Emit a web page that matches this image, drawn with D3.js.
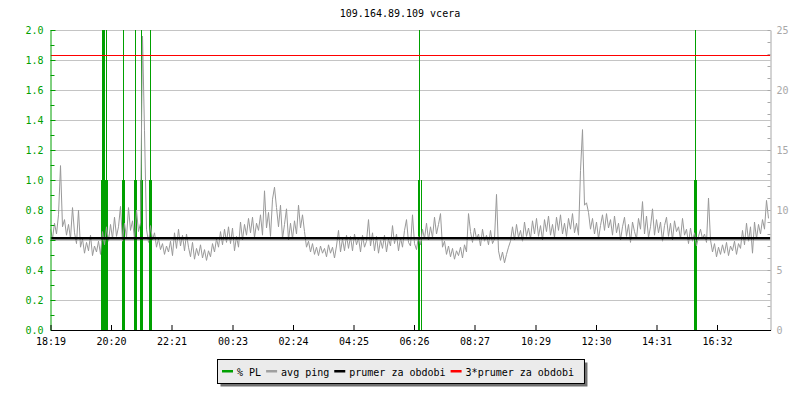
<!DOCTYPE html>
<html>
<head>
<meta charset="utf-8">
<script src="https://cdn.jsdelivr.net/npm/d3@7"></script>
<style>
  body { margin: 0; background: #fff; }
  svg { display: block; font-family: "DejaVu Sans Mono", monospace; font-size: 10px; }
</style>
</head>
<body>
<div id="chart"></div>
<script>
// Chart data.
const title = "109.164.89.109 vcera"
const startTime = "18:19"
const tickLabels = ["18:19", "20:20", "22:21", "00:23", "02:24", "04:25", "06:26", "08:27", "10:29", "12:30", "14:31", "16:32"]
const sampleStep = 4 // minutes between ping samples

// avg ping (ms), one value every 4 minutes from 18:19
const pingAvg = [
  8.4, 7.6, 8.9, 8.0, 9.6, 13.7, 8.6, 9.2, 7.9, 8.8, 7.6, 10.2, 8.1, 7.2, 10.0, 6.9, 7.6, 6.4, 7.3, 6.6, 7.9, 6.2, 7.0, 6.5, 7.4, 6.3, 8.2, 7.1, 8.6, 7.4,
  8.8, 7.6, 9.4, 7.8, 8.6, 10.3, 7.4, 8.9, 7.7, 10.2, 8.3, 9.1, 7.6, 10.0, 8.2, 8.9, 24.5, 16.6, 8.4, 7.3, 8.7, 7.5, 8.1, 6.9, 7.6, 6.7, 7.2, 6.3, 7.0, 6.5,
  7.4, 6.2, 8.1, 6.8, 8.4, 7.0, 7.9, 6.6, 8.0, 6.9, 6.1, 7.3, 5.9, 6.8, 6.2, 7.1, 6.0, 6.7, 5.8, 6.6, 6.1, 7.2, 6.5, 7.6, 6.9, 8.2, 7.1, 8.4, 7.3, 8.6,
  7.2, 8.5, 6.6, 7.8, 6.9, 9.0, 7.5, 8.8, 7.9, 9.3, 8.1, 9.4, 7.7, 8.9, 8.3, 9.6, 7.9, 11.6, 8.5, 9.8, 7.8, 10.9, 11.9, 10.2, 8.6, 10.4, 7.6, 8.8, 10.1, 7.5,
  8.9, 7.6, 9.1, 8.0, 10.4, 8.5, 9.6, 8.2, 6.9, 7.4, 6.5, 7.2, 6.3, 6.9, 6.2, 7.0, 6.4, 6.8, 6.1, 7.1, 6.4, 6.9, 6.0, 7.0, 8.3, 6.5, 7.6, 6.6, 7.9, 6.8,
  7.8, 6.6, 8.0, 7.1, 7.7, 6.5, 7.9, 6.9, 7.4, 9.2, 7.0, 8.1, 6.6, 7.8, 6.4, 7.5, 6.8, 7.9, 6.5, 7.6, 7.0, 8.7, 7.2, 8.0, 6.6, 7.7, 6.9, 8.3, 9.2, 7.3,
  7.0, 9.6, 7.2, 6.7, 7.8, 7.1, 8.4, 7.6, 8.9, 7.5, 8.6, 7.7, 9.4, 8.0, 8.8, 9.7, 6.9, 7.4, 6.3, 7.0, 6.1, 6.8, 5.9, 6.6, 6.2, 6.9, 6.0, 7.1, 6.5, 9.7,
  8.2, 7.3, 8.5, 7.6, 8.0, 7.0, 8.4, 7.4, 7.9, 7.1, 8.3, 7.2, 7.6, 11.3, 6.6, 5.8, 6.5, 5.6, 6.3, 6.9, 7.4, 8.6, 7.5, 8.8, 7.7, 8.3, 7.4, 9.0, 7.8, 8.5,
  7.6, 9.1, 8.0, 9.3, 7.8, 8.7, 7.5, 9.2, 8.2, 9.5, 7.9, 8.8, 7.7, 9.4, 8.3, 9.6, 8.0, 8.9, 7.8, 9.3, 8.4, 9.7, 8.1, 8.9, 7.9, 13.3, 16.7, 10.4, 10.6, 9.8,
  8.4, 9.3, 8.0, 9.0, 7.6, 8.7, 9.6, 8.3, 9.7, 8.5, 9.2, 7.9, 9.5, 8.1, 8.9, 7.5, 8.6, 9.4, 7.8, 8.8, 7.3, 9.0, 8.2, 7.6, 9.3, 8.4, 10.7, 8.0, 9.5, 7.7,
  8.6, 10.1, 7.9, 9.2, 8.1, 9.0, 7.4, 8.7, 9.4, 7.8, 8.9, 7.5, 9.1, 8.2, 8.6, 7.6, 9.3, 7.9, 8.4, 7.2, 8.5, 7.4, 8.1, 7.0, 7.8, 8.4, 7.6, 8.0, 7.3, 11.0,
  7.5, 6.5, 7.2, 6.1, 6.9, 6.3, 7.1, 6.4, 7.3, 6.2, 7.0, 6.6, 7.4, 6.3, 7.2, 6.8, 8.3, 7.1, 8.9, 7.4, 8.6, 6.4, 9.0, 7.6, 8.8, 8.0, 9.2, 8.4, 10.8, 9.3
]

// packet loss (%), minutes after 18:19
const plMinutes = [101, 103, 105, 107, 109, 111, 113, 143, 145, 147, 167, 169, 171, 179, 181, 183, 197, 199, 201, 737, 739, 741, 1287, 1289, 1291]
const plValues = [1, 100, 100, 100, 1, 100, 1, 1, 100, 1, 1, 100, 1, 1, 100, 1, 1, 100, 1, 1, 100, 1, 1, 100, 1]

const avgPing = 7.65
const legendItems = ["% PL", "avg ping", "prumer za obdobi", "3*prumer za obdobi"]
const legendColours = ["#00a000", "#a0a0a0", "#000000", "#ff0000"]

// Sizes.
let width = 800
let height = 400
let plot = {"left": 50.5, "right": 770.5, "top": 30, "bottom": 330}
let green = "#00a000"
let grid = "#c4c4c4"
let rightGray = "#a8a8a8"

let svg = d3.select("#chart").append("svg")
    .attr("width", width)
    .attr("height", height)

// Minutes since start for a "HH:MM" label.
function minutesFrom(label) {
    let [h, m] = label.split(":").map(Number)
    let [h0, m0] = startTime.split(":").map(Number)
    return ((h * 60 + m) - (h0 * 60 + m0) + 1440) % 1440
}

let x = d3.scaleLinear().domain([0, 1440]).range([plot.left, plot.right])
let yLeft = d3.scaleLinear().domain([0, 2]).range([plot.bottom, plot.top])
let yRight = d3.scaleLinear().domain([0, 25]).range([plot.bottom, plot.top])

svg.append("defs").append("clipPath").attr("id", "clip")
    .append("rect")
    .attr("x", plot.left).attr("y", plot.top)
    .attr("width", plot.right - plot.left).attr("height", plot.bottom - plot.top)

// Title.
svg.append("text")
    .attr("x", 400)
    .attr("y", 17)
    .attr("text-anchor", "middle")
    .attr("fill", "#000")
    .text(title)

// Horizontal grid lines.
let leftTicks = d3.range(0, 2.01, 0.2)
svg.append("g").selectAll("line")
    .data(leftTicks.filter(d => d > 0))
    .enter().append("line")
    .attr("x1", plot.left).attr("x2", plot.right)
    .attr("y1", d => Math.round(yLeft(d)) + 0.5)
    .attr("y2", d => Math.round(yLeft(d)) + 0.5)
    .attr("stroke", grid)
    .attr("stroke-width", 1)

let chart = svg.append("g").attr("clip-path", "url(#clip)")

// Packet loss bars.
chart.append("g").selectAll("rect")
    .data(plMinutes)
    .enter().append("rect")
    .attr("x", d => Math.floor(x(d)))
    .attr("width", 1)
    .attr("y", (d, i) => yLeft(Math.min(plValues[i], 2.2)))
    .attr("height", (d, i) => plot.bottom - yLeft(Math.min(plValues[i], 2.2)))
    .attr("fill", green)

// Avg ping line.
let pingLine = d3.line()
    .x((d, i) => x(i * sampleStep))
    .y(d => yRight(d))

chart.append("path")
    .datum(pingAvg)
    .attr("d", pingLine)
    .attr("fill", "none")
    .attr("stroke", "#999999")
    .attr("stroke-width", 1)

// Average and 3x average lines.
chart.append("line")
    .attr("x1", plot.left).attr("x2", plot.right)
    .attr("y1", yRight(avgPing)).attr("y2", yRight(avgPing))
    .attr("stroke", "#000").attr("stroke-width", 2.5)

chart.append("line")
    .attr("x1", plot.left).attr("x2", plot.right)
    .attr("y1", Math.round(yRight(3 * avgPing)) + 0.5).attr("y2", Math.round(yRight(3 * avgPing)) + 0.5)
    .attr("stroke", "#ff0000").attr("stroke-width", 1)

// Left axis (green).
let leftAxis = d3.axisLeft(yLeft)
    .tickValues(leftTicks)
    .tickFormat(d3.format(".1f"))
    .tickSizeInner(-5)
    .tickSizeOuter(0)
    .tickPadding(7)
let gLeft = svg.append("g")
    .attr("transform", "translate(" + plot.left + ",0)")
    .call(leftAxis)
gLeft.selectAll("path, line").attr("stroke", green)
gLeft.selectAll("text").attr("fill", green).style("font-family", "DejaVu Sans Mono").style("font-size", "10px")
gLeft.append("g").selectAll("line")
    .data(d3.range(0.1, 2, 0.2))
    .enter().append("line")
    .attr("x1", 0).attr("x2", 4)
    .attr("y1", d => Math.round(yLeft(d)) + 0.5).attr("y2", d => Math.round(yLeft(d)) + 0.5)
    .attr("stroke", green)

// Right axis (gray).
let rightAxis = d3.axisRight(yRight)
    .tickValues(d3.range(0, 26, 5))
    .tickSizeInner(-3)
    .tickSizeOuter(0)
    .tickPadding(6)
let gRight = svg.append("g")
    .attr("transform", "translate(" + plot.right + ",0)")
    .call(rightAxis)
gRight.selectAll("path, line").attr("stroke", rightGray)
gRight.selectAll("text").attr("fill", rightGray).style("font-family", "DejaVu Sans Mono").style("font-size", "10px")
gRight.append("g").selectAll("line")
    .data(d3.range(1, 25).filter(d => d % 5 !== 0))
    .enter().append("line")
    .attr("x1", -3).attr("x2", 0)
    .attr("y1", d => Math.round(yRight(d)) + 0.5).attr("y2", d => Math.round(yRight(d)) + 0.5)
    .attr("stroke", rightGray)

// Bottom axis.
let tickMinutes = tickLabels.map(minutesFrom)
let bottomAxis = d3.axisBottom(x)
    .tickValues(tickMinutes)
    .tickFormat((d, i) => tickLabels[i])
    .tickSizeInner(-5)
    .tickSizeOuter(0)
    .tickPadding(8)
let gBottom = svg.append("g")
    .attr("transform", "translate(0," + plot.bottom + ")")
    .call(bottomAxis)
gBottom.selectAll("path, line").attr("stroke", "#000")
gBottom.selectAll("text").attr("fill", "#000").style("font-family", "DejaVu Sans Mono").style("font-size", "10px")

// Legend.
let legend = svg.append("g")
let shadow = legend.append("rect").attr("fill", "#707070")
let box = legend.append("rect").attr("fill", "#ebebeb").attr("stroke", "#000").attr("stroke-width", 1)
let cursor = 0
let items = legendItems.map(function(name, i) {
    let g = legend.append("g")
    g.append("rect")
        .attr("x", 0).attr("y", -1.5)
        .attr("width", 11).attr("height", 2.5)
        .attr("fill", legendColours[i])
    let t = g.append("text")
        .attr("x", 15).attr("y", 4)
        .attr("fill", "#000")
        .text(name)
    let w = 15 + t.node().getComputedTextLength()
    g.attr("transform", "translate(" + cursor + ",0)")
    cursor += w + 5
    return g
})
let legendWidth = cursor - 5 + 15
let legendX = 217
let legendY = 359
legend.attr("transform", "translate(" + legendX + "," + legendY + ")")
box.attr("x", 0.5).attr("y", 0.5).attr("width", legendWidth).attr("height", 24)
shadow.attr("x", 3.5).attr("y", 3.5).attr("width", legendWidth).attr("height", 24)
items.forEach(function(g, i) {
    let tr = g.attr("transform").match(/translate\(([-\d.]+)/)[1]
    g.attr("transform", "translate(" + (Number(tr) + 5) + ",12.5)")
})
</script>
</body>
</html>
